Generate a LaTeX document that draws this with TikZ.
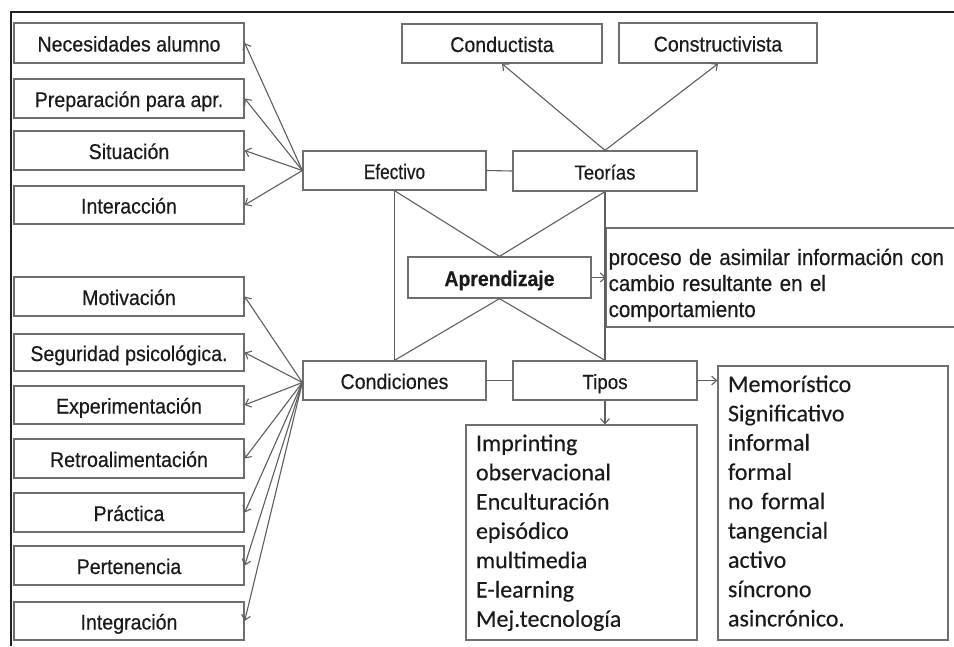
\documentclass[tikz,border=0pt]{standalone}
\usepackage{fontspec}
\setmainfont{Liberation Sans}
\newfontfamily\lab{Liberation Sans}[FakeStretch=0.92,FakeBold=0.4]
\newfontfamily\labn{Liberation Sans}[FakeStretch=0.82,FakeBold=0.4]
\newfontfamily\carlito{Carlito}[FakeBold=0.25]
\usetikzlibrary{arrows.meta,calc}
\definecolor{boxgray}{HTML}{6E6E6E}
\definecolor{linegray}{HTML}{5E5E5E}
\definecolor{txt}{HTML}{1A1A1A}
\definecolor{framecol}{HTML}{202020}
\begin{document}
\begin{tikzpicture}[x=1pt,y=-1pt,
  plainbox/.style={draw=boxgray, line width=1.3pt, rectangle, inner sep=0pt, text=txt},
  box/.style={plainbox, text height=17pt, text depth=0pt, font=\lab\fontsize{21.3}{25}\selectfont},
  lbox/.style={box, minimum width=230pt},
  conn/.style={draw=linegray, line width=1.1pt},
  arr/.style={conn, -{Straight Barb[length=5pt,width=9pt]}},
  listtext/.style={plainbox, align=left, inner xsep=10pt, inner ysep=0pt, font=\fontsize{24}{29.3}\carlito},
]
\clip (0,0) rectangle (954,646);
\fill[white] (0,0) rectangle (954,646);
\draw[framecol, line width=2pt] (11,646) -- (11,12) -- (954,12);

% left column, upper
\node[lbox, minimum height=40pt] (nec) at (129,43) {Necesidades alumno};
\node[lbox, minimum height=39pt] (prep) at (129,98.5) {Preparación para apr.};
\node[lbox, minimum height=39pt] (sit) at (129,150.5) {Situación};
\node[lbox, minimum height=38pt] (inter) at (129,205) {Interacción};

% left column, lower
\node[lbox, minimum height=39pt] (motiv) at (129,296.5) {Motivación};
\node[lbox, minimum height=37pt] (seg) at (129,352.5) {Seguridad psicológica.};
\node[lbox, minimum height=38pt] (exper) at (129,405) {Experimentación};
\node[lbox, minimum height=39pt] (retro) at (129,458.5) {Retroalimentación};
\node[lbox, minimum height=39pt] (prac) at (129,512.5) {Práctica};
\node[lbox, minimum height=39pt] (pert) at (129,565.5) {Pertenencia};
\node[lbox, minimum height=38pt] (integ) at (129,621) {Integración};

% top
\node[box, minimum width=200pt, minimum height=39pt] (conduct) at (502,43.5) {Conductista};
\node[box, minimum width=198pt, minimum height=40pt] (construct) at (718,43) {Constructivista};

% centre
\node[box, minimum width=183pt, minimum height=39pt, font=\labn\fontsize{21}{25}\selectfont] (efec) at (394.5,170.5) {Efectivo};
\node[box, minimum width=184pt, minimum height=40pt, font=\lab\fontsize{20.2}{24}\selectfont] (teor) at (605,171) {Teorías};
\node[box, minimum width=183pt, minimum height=41pt, font=\lab\fontsize{21.1}{25}\bfseries] (apr) at (499.5,277.5) {Aprendizaje};
\node[box, minimum width=183pt, minimum height=39pt] (cond) at (394.5,380.5) {Condiciones};
\node[box, minimum width=184pt, minimum height=39pt, font=\lab\fontsize{20.4}{24}\selectfont] (tipos) at (605,380.5) {Tipos};

% definition
\node[plainbox, anchor=west, minimum height=99pt, text width=350pt, inner xsep=2pt, inner ysep=0pt, align=left, font=\lab\fontsize{22.3}{26}\selectfont] (def) at (606,277.5)
  {\noindent\rule{0pt}{33pt}proceso de asimilar información con\\cambio resultante en el\\comportamiento\rule[-6pt]{0pt}{6pt}};

% lists
\node[listtext, text width=211pt, minimum height=215pt] (imp) at (581.5,532.5)
  {\noindent\rule{0pt}{26pt}Imprinting\\observacional\\Enculturación\\episódico\\multimedia\\E-learning\\Mej.tecnología\rule[-13.2pt]{0pt}{13.2pt}};
\node[listtext, text width=210pt, minimum height=274pt] (mem) at (833,503)
  {\noindent\rule{0pt}{26pt}Memorístico\\Significativo\\informal\\formal\\no formal\\tangencial\\activo\\síncrono\\asincrónico.\rule[-13.6pt]{0pt}{13.6pt}};

% plain connectors
\draw[conn] (efec.east) -- (teor.west);
\draw[conn] (cond.east) -- (tipos.west);
\draw[conn] (efec.south) -- (cond.north);
\draw[conn] (teor.south) -- (tipos.north);
\draw[conn] (efec.south) -- (apr.north);
\draw[conn] (teor.south) -- (apr.north);
\draw[conn] (apr.south) -- (cond.north);
\draw[conn] (apr.south) -- (tipos.north);

% arrows
\draw[arr] (teor.north) -- (conduct.south);
\draw[arr] (teor.north) -- (construct.south);
\draw[arr] (apr.east) -- (def.west);
\draw[arr] (tipos.east) -- (tipos.east -| mem.west);
\draw[arr] (tipos.south) -- (tipos.south |- imp.north);

\foreach \t in {nec,prep,sit,inter}
  \draw[arr] (efec.west) -- (\t.east);
\foreach \t in {motiv,seg,exper,retro,prac,pert,integ}
  \draw[arr] ($(cond.west)+(0,2)$) -- (\t.east);
\end{tikzpicture}
\end{document}
